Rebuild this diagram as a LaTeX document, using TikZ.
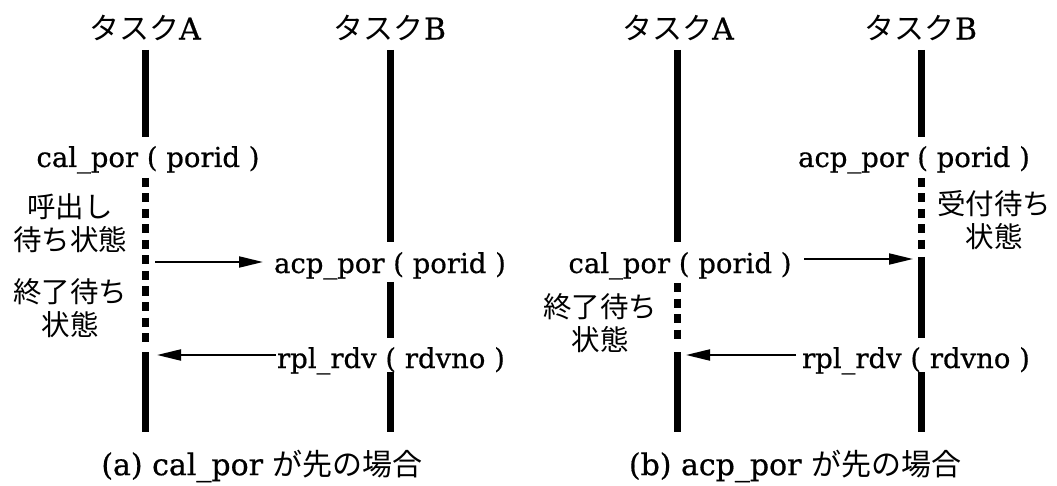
\documentclass[tikz,border=0pt]{standalone}
\usepackage{fontspec}
\setmainfont{DejaVu Serif}[FakeBold=0.6]
\newfontfamily\jp{Noto Sans CJK JP}
\usetikzlibrary{arrows.meta}
\begin{document}
\begin{tikzpicture}[x=1pt,y=-1pt,
  life/.style={line width=7pt},
  waitline/.style={line width=7pt, dash pattern=on 9pt off 6.5pt},
  msg/.style={line width=2pt, -{Triangle[length=24pt,width=11pt]}},
  lbl/.style={font=\fontsize{27.5}{31}\selectfont, anchor=base, inner sep=0pt},
  st/.style={font=\jp\fontsize{28.5}{33}\selectfont, align=center, inner sep=0pt},
  ttl/.style={font=\fontsize{30}{34}\selectfont, inner sep=0pt},
  capt/.style={font=\fontsize{30}{34}\selectfont, inner sep=0pt}]
\useasboundingbox (0,0) rectangle (1057,486);

% ---------- panel (a) ----------
\node[ttl] (tA1) at (145,28) {{\jp タスク}A};
\node[ttl] (tB1) at (390,28) {{\jp タスク}B};

\coordinate (a1top) at (145,50);
\coordinate (a1s) at (145,137);
\coordinate (a1d1) at (145,178);
\coordinate (a1d2) at (145,347);
\coordinate (a1r) at (145,352);
\coordinate (a1bot) at (145,432);
\draw[life] (a1top) -- (a1s);
\draw[waitline] (a1d1) -- (a1d2);
\draw[life] (a1r) -- (a1bot);

\coordinate (b1top) at (390,50);
\coordinate (b1s1) at (390,242);
\coordinate (b1s2) at (390,282);
\coordinate (b1s3) at (390,338);
\coordinate (b1s4) at (390,372);
\coordinate (b1bot) at (390,432);
\draw[life] (b1top) -- (b1s1);
\draw[life] (b1s2) -- (b1s3);
\draw[life] (b1s4) -- (b1bot);

\node[lbl] (calA) at (148,167) {cal\_por ( porid )};
\node[lbl] (acpA) at (390,273) {acp\_por ( porid )};
\node[lbl] (rplA) at (391,368) {rpl\_rdv ( rdvno )};

\node[st] (waitA1) at (70,223) {呼出し\\待ち状態};
\node[st] (waitA2) at (70,308) {終了待ち\\状態};

\coordinate (a1c) at (155,262);
\coordinate (a1ct) at (263,262);
\draw[msg] (a1c) -- (a1ct);
\coordinate (a1rs) at (276,355);
\coordinate (a1rt) at (157,355);
\draw[msg] (a1rs) -- (a1rt);

\node[capt] (capA) at (262,466) {(a) cal\_por {\jp が先の場合}};

% ---------- panel (b) ----------
\node[ttl] (tA2) at (678,28) {{\jp タスク}A};
\node[ttl] (tB2) at (921,28) {{\jp タスク}B};

\coordinate (a2top) at (677,50);
\coordinate (a2s) at (677,242);
\coordinate (a2d1) at (677,283);
\coordinate (a2d2) at (677,344);
\coordinate (a2r) at (677,352);
\coordinate (a2bot) at (677,432);
\draw[life] (a2top) -- (a2s);
\draw[waitline] (a2d1) -- (a2d2);
\draw[life] (a2r) -- (a2bot);

\coordinate (b2top) at (921,50);
\coordinate (b2s) at (921,137);
\coordinate (b2d1) at (921,178);
\coordinate (b2d2) at (921,253);
\coordinate (b2r) at (921,257);
\coordinate (b2s3) at (921,338);
\coordinate (b2s4) at (921,372);
\coordinate (b2bot) at (921,432);
\draw[life] (b2top) -- (b2s);
\draw[waitline] (b2d1) -- (b2d2);
\draw[life] (b2r) -- (b2s3);
\draw[life] (b2s4) -- (b2bot);

\node[lbl] (acpB) at (914,167) {acp\_por ( porid )};
\node[lbl] (calB) at (680,273) {cal\_por ( porid )};
\node[lbl] (rplB) at (916,368) {rpl\_rdv ( rdvno )};

\node[st] (waitB1) at (994,220) {受付待ち\\状態};
\node[st] (waitB2) at (600,323) {終了待ち\\状態};

\coordinate (b2c) at (804,259);
\coordinate (b2ct) at (913,259);
\draw[msg] (b2c) -- (b2ct);
\coordinate (b2rs) at (796,355);
\coordinate (b2rt) at (686,355);
\draw[msg] (b2rs) -- (b2rt);

\node[capt] (capB) at (795,466) {(b) acp\_por {\jp が先の場合}};
\end{tikzpicture}
\end{document}
